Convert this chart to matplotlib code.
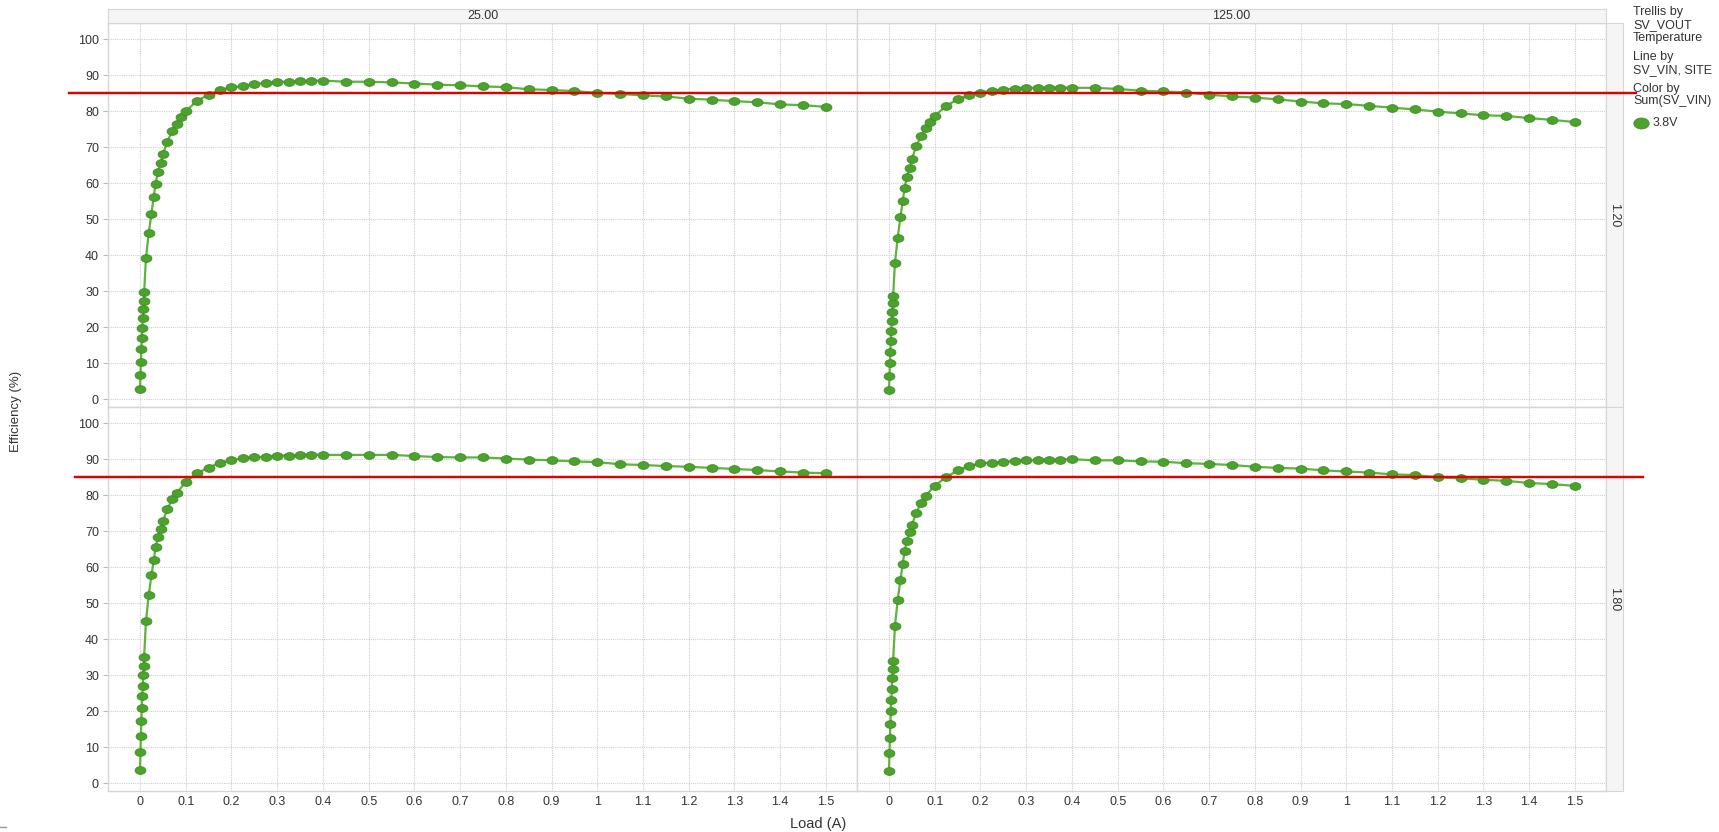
import matplotlib
matplotlib.use("Agg")
import matplotlib.pyplot as plt
from matplotlib.path import Path
from matplotlib.lines import Line2D
from matplotlib.patches import Rectangle
from matplotlib.transforms import blended_transform_factory

plt.rcParams["font.family"] = ["Liberation Sans", "DejaVu Sans"]

# trellis: columns = temperature, rows = SV_VOUT
temps = ["25.00", "125.00"]
vouts = ["1.20", "1.80"]

loads_top = [0.000, 0.001, 0.002, 0.003, 0.004, 0.005, 0.006, 0.007, 0.008, 0.009,
             0.013, 0.019, 0.025, 0.030, 0.034, 0.039, 0.045, 0.050, 0.060, 0.070,
             0.080, 0.090, 0.100,
             0.125, 0.150, 0.175, 0.200, 0.225, 0.250, 0.275, 0.300, 0.325, 0.350,
             0.375, 0.400,
             0.45, 0.50, 0.55, 0.60, 0.65, 0.70, 0.75, 0.80, 0.85, 0.90, 0.95, 1.00,
             1.05, 1.10, 1.15, 1.20, 1.25, 1.30, 1.35, 1.40, 1.45, 1.50]
loads_bottom = [l for l in loads_top if l != 0.090]

eff_120_25 = [2.8, 6.7, 10.3, 14.0, 17.0, 19.9, 22.5, 25.2, 27.4, 29.7,
              39.2, 46.1, 51.6, 56.3, 59.9, 63.1, 65.6, 68.0, 71.6, 74.5, 76.6, 78.3, 80.0,
              82.9, 84.6, 85.9, 86.6, 87.0, 87.5, 87.9, 88.1, 88.2, 88.3, 88.5, 88.5,
              88.2, 88.2, 88.0, 87.7, 87.4, 87.2, 86.9, 86.7, 86.1, 85.9, 85.6, 85.1,
              84.8, 84.4, 84.1, 83.5, 83.2, 82.8, 82.5, 81.9, 81.7, 81.2]
eff_120_125 = [2.6, 6.5, 10.1, 13.2, 16.3, 19.1, 21.8, 24.3, 26.7, 28.8,
               37.9, 44.9, 50.6, 55.0, 58.7, 61.8, 64.3, 66.8, 70.4, 73.1, 75.3, 77.1, 78.7,
               81.5, 83.3, 84.4, 85.2, 85.7, 86.0, 86.3, 86.5, 86.5, 86.5, 86.5, 86.5,
               86.5, 86.2, 85.7, 85.5, 85.2, 84.6, 84.1, 83.8, 83.3, 82.7, 82.2, 82.0,
               81.5, 81.0, 80.5, 79.9, 79.4, 78.9, 78.7, 78.1, 77.6, 77.0]
eff_180_25 = [3.7, 8.6, 13.1, 17.2, 20.9, 24.3, 27.1, 30.0, 32.6, 35.2,
              45.0, 52.3, 57.8, 61.9, 65.6, 68.4, 70.7, 72.8, 76.2, 78.9, 80.6, 83.7,
              86.1, 87.7, 89.0, 89.7, 90.3, 90.5, 90.7, 91.0, 91.0, 91.2, 91.2, 91.2,
              91.2, 91.2, 91.2, 90.9, 90.6, 90.5, 90.5, 90.2, 89.9, 89.7, 89.4, 89.2,
              88.6, 88.4, 88.1, 87.9, 87.6, 87.3, 87.0, 86.6, 86.3, 86.1]
eff_180_125 = [3.5, 8.4, 12.5, 16.5, 20.1, 23.2, 26.3, 29.2, 31.8, 34.1,
               43.7, 51.0, 56.5, 60.9, 64.5, 67.4, 69.7, 71.8, 75.2, 77.8, 79.8, 82.7,
               85.0, 86.9, 88.0, 88.9, 89.0, 89.3, 89.5, 89.7, 89.7, 89.9, 89.9, 90.0,
               89.7, 89.7, 89.4, 89.3, 88.9, 88.7, 88.4, 87.9, 87.6, 87.4, 86.9, 86.6,
               86.3, 85.8, 85.6, 85.0, 84.7, 84.3, 84.0, 83.4, 83.1, 82.6]

panels = [[(loads_top, eff_120_25), (loads_top, eff_120_125)],
          [(loads_bottom, eff_180_25), (loads_bottom, eff_180_125)]]

target = 85
load_ticks = [0, 0.1, 0.2, 0.3, 0.4, 0.5, 0.6, 0.7, 0.8, 0.9, 1.0, 1.1, 1.2, 1.3, 1.4, 1.5]
eff_ticks = [0, 10, 20, 30, 40, 50, 60, 70, 80, 90, 100]
series_label = "3.8V"

green = "#4ba22c"
edge = "#3f8f24"
red = "#e00000"
border = "#d6d6d6"
text_c = "#333333"
fs = 9

circ = Path.unit_circle()
ellipse = Path(circ.vertices * [1.4, 1.0], circ.codes)

W, H = 1719, 832
fig = plt.figure(figsize=(W / 100, H / 100), dpi=100)

col_x = [(108, 857), (857, 1606)]
row_y = [(23, 407), (407, 791)]
red_span = [(69, 1636), (75, 1643)]

for r in range(2):
    for c in range(2):
        x0, x1 = col_x[c]
        y0, y1 = row_y[r]
        ax = fig.add_axes([x0 / W, 1 - y1 / H, (x1 - x0) / W, (y1 - y0) / H])
        loads, eff = panels[r][c]
        ax.plot(loads, eff, color="#5cb43a", linewidth=1.6, zorder=3,
                marker=ellipse, markersize=7.8, markerfacecolor=green,
                markeredgecolor=edge, markeredgewidth=0.6)
        ax.set_xlim(-0.07, 1.568)
        ax.set_ylim(-2.1, 104.5)
        ax.set_xticks(load_ticks)
        ax.set_xticklabels([f"{v:g}" for v in load_ticks])
        ax.set_yticks(eff_ticks)
        ax.grid(True, color="#cdcdcd", linestyle=(0, (1, 1)), linewidth=0.8)
        ax.set_axisbelow(True)
        for s in ax.spines.values():
            s.set_color(border)
            s.set_linewidth(1.0)
        ax.tick_params(axis="y", length=3.5 if c == 0 else 0, color="#bbbbbb",
                       labelsize=fs, labelcolor=text_c, pad=3, labelleft=(c == 0))
        ax.tick_params(axis="x", length=0, labelsize=fs, labelcolor=text_c, pad=3.5,
                       labelbottom=(r == 1))

        # target line, runs a little past the panel edges
        xa, xb = red_span[r]
        trans = blended_transform_factory(fig.transFigure, ax.transData)
        fig.add_artist(Line2D([xa / W, xb / W], [target, target], transform=trans,
                              color=red, linewidth=1.6, zorder=5))

# strips
for c in range(2):
    x0, x1 = col_x[c]
    fig.add_artist(Rectangle((x0 / W, 1 - 23 / H), (x1 - x0) / W, 13.5 / H,
                             transform=fig.transFigure, facecolor="#f5f5f5",
                             edgecolor=border, linewidth=0.8))
    fig.text((x0 + x1) / 2 / W, 1 - 16.3 / H, temps[c], ha="center", va="center",
             fontsize=fs, color=text_c)
for r in range(2):
    y0, y1 = row_y[r]
    fig.add_artist(Rectangle((1606 / W, 1 - y1 / H), 17 / W, (y1 - y0) / H,
                             transform=fig.transFigure, facecolor="#f5f5f5",
                             edgecolor=border, linewidth=0.8))
    fig.text(1614.5 / W, 1 - (y0 + y1) / 2 / H, vouts[r], ha="center", va="center",
             rotation=270, fontsize=fs, color=text_c)

fig.text(818 / W, 1 - 824 / H, "Load (A)", ha="center", va="center",
         fontsize=10.5, color=text_c)
fig.text(16 / W, 1 - 411 / H, "Efficiency (%)", ha="center", va="center",
         rotation=90, fontsize=9.5, color=text_c)

# legend block
legend_lines = [("Trellis by", 11.7), ("SV_VOUT", 25), ("Temperature", 37.7),
                ("Line by", 56.7), ("SV_VIN, SITE", 70), ("Color by", 89),
                ("Sum(SV_VIN)", 101)]
for txt, yy in legend_lines:
    fig.text(1633 / W, 1 - yy / H, txt, ha="left", va="center", fontsize=fs, color=text_c)
fig.add_artist(Line2D([1641 / W], [1 - 123.3 / H], transform=fig.transFigure,
                      marker=ellipse, markersize=11, linestyle="none",
                      markerfacecolor=green, markeredgecolor=edge, markeredgewidth=0.6))
fig.text(1653 / W, 1 - 123.3 / H, series_label, ha="left", va="center",
         fontsize=fs, color=text_c)

fig.add_artist(Line2D([0 / W, 6 / W], [1 - 827 / H, 1 - 827 / H],
                      transform=fig.transFigure, color="#999999", linewidth=1))

plt.savefig("out.png", dpi=100)
